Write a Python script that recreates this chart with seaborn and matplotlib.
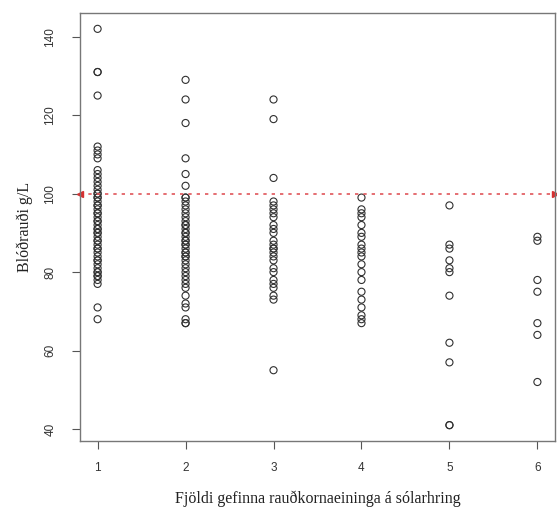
import numpy as np
import pandas as pd
import matplotlib
matplotlib.use("Agg")
import matplotlib.pyplot as plt
import seaborn as sns

# Data
g1 = [142, 131, 131, 125, 112, 111, 110, 109, 106, 105, 104, 103, 102, 101, 100, 100, 99, 99, 98, 97,
      97, 96, 95, 95, 94, 93, 93, 92, 91, 91, 90, 90, 89, 88, 88, 87, 86, 86, 85, 84, 83, 83, 82, 81,
      80, 80, 79, 79, 78, 77, 71, 68]
g2 = [129, 124, 118, 109, 105, 102, 99, 99, 98, 97, 96, 95, 94, 93, 92, 92, 91, 90, 90, 89, 88, 88,
      87, 87, 86, 85, 85, 84, 84, 83, 82, 81, 80, 79, 78, 77, 76, 74, 72, 71, 68, 67, 67]
g3 = [124, 119, 104, 98, 97, 96, 95, 94, 92, 91, 90, 88, 87, 86, 86, 85, 84, 83, 81, 80, 78, 77, 76,
      74, 73, 55]
g4 = [99, 96, 95, 94, 92, 90, 89, 87, 86, 85, 84, 82, 80, 78, 75, 73, 71, 69, 68, 67]
g5 = [97, 87, 86, 83, 81, 80, 74, 62, 57, 41, 41]
g6 = [89, 88, 78, 75, 67, 64, 52]
groups = [g1, g2, g3, g4, g5, g6]
units = [1, 2, 3, 4, 5, 6]
y_ticks = [40, 60, 80, 100, 120, 140]
ref_line = 100
xlabel = "Fjöldi gefinna rauðkornaeininga á sólarhring"
ylabel = "Blóðrauði g/L"

rows = []
for u, g in zip(units, groups):
    for v in g:
        rows.append((u, v))
df = pd.DataFrame(rows, columns=["units", "hb"])

sns.set_style("white")
plt.rcParams["font.family"] = ["Liberation Serif", "DejaVu Serif"]

fig = plt.figure(figsize=(5.57, 5.12), dpi=100)
ax = fig.add_axes([80 / 557, 1 - 441 / 512, (555 - 80) / 557, (441 - 13) / 512])

sns.scatterplot(data=df, x="units", y="hb", ax=ax, marker="o", s=26,
                facecolor="none", edgecolor="#303030", linewidth=0.8, legend=False)

ax.axhline(ref_line, color="#e0555a", linestyle=(0, (2, 3)), linewidth=1.2)
ax.plot([0.8], [ref_line], marker="<", color="#d63030", markersize=5, clip_on=False)
ax.plot([6.2], [ref_line], marker=">", color="#d63030", markersize=5, clip_on=False)

ymin, ymax = 41, 142
rng = ymax - ymin
ax.set_xlim(0.8, 6.2)
ax.set_ylim(ymin - 0.04 * rng, ymax + 0.04 * rng)
ax.set_xticks(units)
ax.set_yticks(y_ticks)
ax.set_xticklabels([str(u) for u in units], fontsize=8.5, family=["Liberation Sans", "DejaVu Sans"])
ax.set_yticklabels([str(t) for t in y_ticks], fontsize=8.5, rotation=90, va="center",
                   family=["Liberation Sans", "DejaVu Sans"])
ax.tick_params(axis="both", direction="out", length=6, width=0.8, color="#555555",
               labelcolor="#333333", bottom=True, left=True)
ax.tick_params(axis="x", pad=9)
ax.tick_params(axis="y", pad=11)

for sp in ax.spines.values():
    sp.set_visible(True)
    sp.set_color("#777777")
    sp.set_linewidth(1.0)

ax.set_xlabel(xlabel, fontsize=11.5, color="#222222", labelpad=12)
ax.set_ylabel(ylabel, fontsize=11.5, color="#222222", labelpad=8)

fig.savefig("out.png", dpi=100)
